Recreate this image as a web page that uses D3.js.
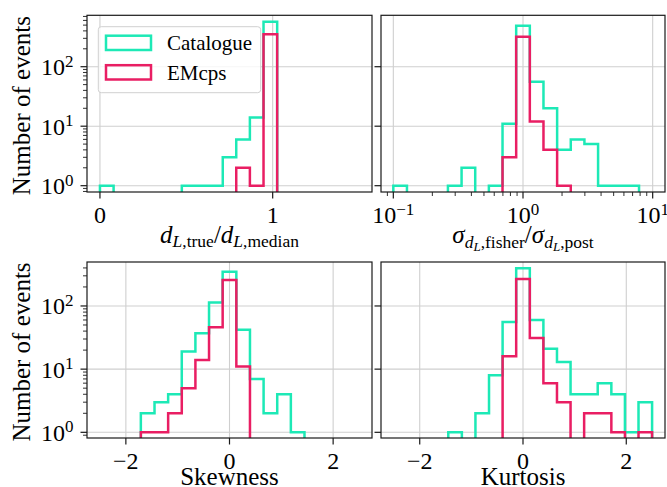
<html>
<head>
<meta charset="UTF-8">
<title>Histograms</title>
<script src="https://cdn.jsdelivr.net/npm/d3@7"></script>
<style>
  body { margin:0; background:#fff; }
</style>
</head>
<body>
<svg id="chart" width="667" height="487"></svg>
<script>
// bin edges (20 edges, 19 bins each)
var dlEdges = [0, 0.079, 0.158, 0.237, 0.316, 0.395, 0.474, 0.553, 0.632, 0.711,
               0.789, 0.868, 0.947, 1.026, 1.105, 1.184, 1.263, 1.342, 1.421, 1.5];
var sigmaEdges = [0.1, 0.1274, 0.1624, 0.2069, 0.2637, 0.336, 0.4281, 0.5456, 0.6952, 0.8859,
                  1.1288, 1.4384, 1.833, 2.336, 2.976, 3.793, 4.833, 6.158, 7.848, 10];
var momentEdges = [-2.5, -2.237, -1.974, -1.711, -1.447, -1.184, -0.921, -0.658, -0.395, -0.132,
                   0.132, 0.395, 0.658, 0.921, 1.184, 1.447, 1.711, 1.974, 2.237, 2.5];

// counts per bin
var dlCatalogue = [1,0,0,0,0,0,1,1,1,3,6,14,570,0,0,0,0,0,0];
var dlEMcps     = [0,0,0,0,0,0,0,0,0,0,2,1,350,0,0,0,0,0,0];
var sigmaCatalogue = [1,0,0,0,1,2,0,1,11,490,56,20,4,6,5,1,1,1,0];
var sigmaEMcps     = [0,0,0,0,0,0,0,0,3,320,12,4,1,0,0,0,0,0,0];
var skewCatalogue = [0,0,0,2,3,4,19,37,113,349,42,7,2,4,1,0,0,0,0];
var skewEMcps     = [0,0,0,1,1,2,5,14,46,258,11,0,0,0,0,0,0,0,0];
var kurtCatalogue = [0,0,0,0,1,0,2,8,56,395,60,21,13,4,4,6,4,1,3];
var kurtEMcps     = [0,0,0,0,0,0,0,0,16,267,31,6,3,0,2,2,1,0,1];

var seriesNames = ["Catalogue", "EMcps"];
var seriesColors = ["#1de9b6", "#e91e63"];

var linTicks = [0, 1];
var momentTicks = [-2, 0, 2];
var logXTicks = [0.1, 1, 10];
var logYTicks = [1, 10, 100];

var svg = d3.select("#chart");
var SERIF = "Liberation Serif";
var TICK_FS = 24, LABEL_FS = 25;

// exponent label like 10^k
function powLabel(sel, v) {
    var k = Math.round(Math.log10(v));
    sel.append("tspan").text("10");
    sel.append("tspan").attr("dy", -8.5).attr("font-size", 17)
        .text(k < 0 ? "\u2212" + (-k) : k);
}

function stepPath(edges, counts, x, y, bottomPx) {
    var pts = [[x(edges[0]), bottomPx]];
    for (var i = 0; i < counts.length; i++) {
        var yy = counts[i] > 0 ? y(counts[i]) : bottomPx;
        pts.push([x(edges[i]), yy]);
        pts.push([x(edges[i + 1]), yy]);
    }
    pts.push([x(edges[edges.length - 1]), bottomPx]);
    return "M" + pts.map(function(p){ return p[0] + "," + p[1]; }).join("L");
}

var clipId = 0;
function drawPanel(o) {
    var g = svg.append("g");
    var L = o.left, R = o.right, T = o.top, B = o.bottom;
    var x = o.xlog ? d3.scaleLog() : d3.scaleLinear();
    x.domain(o.xdomain).range([L, R]);
    var y = d3.scaleLog().domain(o.ydomain).range([B, T]);

    // grid
    g.selectAll("line.gx").data(o.xticks).enter().append("line")
        .attr("x1", function(d){ return x(d); }).attr("x2", function(d){ return x(d); })
        .attr("y1", T).attr("y2", B)
        .attr("stroke", "#cfcfcf").attr("stroke-width", 1.1);
    g.selectAll("line.gy").data(logYTicks).enter().append("line")
        .attr("y1", function(d){ return y(d); }).attr("y2", function(d){ return y(d); })
        .attr("x1", L).attr("x2", R)
        .attr("stroke", "#cfcfcf").attr("stroke-width", 1.1);

    // histograms
    clipId++;
    svg.append("clipPath").attr("id", "clip" + clipId).append("rect")
        .attr("x", L).attr("y", T).attr("width", R - L).attr("height", B - T);
    var hg = g.append("g").attr("clip-path", "url(#clip" + clipId + ")");
    o.series.forEach(function(s, i) {
        hg.append("path")
            .attr("d", stepPath(o.edges, s, x, y, B + 6))
            .attr("fill", "none")
            .attr("stroke", seriesColors[i])
            .attr("stroke-width", 2.5)
            .attr("stroke-linejoin", "miter");
    });

    // spines
    g.append("rect").attr("x", L).attr("y", T).attr("width", R - L).attr("height", B - T)
        .attr("fill", "none").attr("stroke", "#1a1a1a").attr("stroke-width", 1.2);

    // x ticks
    g.selectAll("line.tx").data(o.xticks).enter().append("line")
        .attr("x1", function(d){ return x(d); }).attr("x2", function(d){ return x(d); })
        .attr("y1", B).attr("y2", B + 6.5)
        .attr("stroke", "#1a1a1a").attr("stroke-width", 1.2);
    if (o.xlog) {
        var minors = [];
        [0.01, 0.1, 1, 10].forEach(function(dec) {
            for (var m = 2; m <= 9; m++) {
                var v = m * dec;
                if (v > o.xdomain[0] && v < o.xdomain[1]) minors.push(v);
            }
        });
        g.selectAll("line.mx").data(minors).enter().append("line")
            .attr("x1", function(d){ return x(d); }).attr("x2", function(d){ return x(d); })
            .attr("y1", B).attr("y2", B + 4)
            .attr("stroke", "#1a1a1a").attr("stroke-width", 0.9);
    }
    g.selectAll("text.tx").data(o.xticks).enter().append("text")
        .attr("x", function(d){ return x(d); }).attr("y", B + 31)
        .attr("text-anchor", "middle").attr("font-size", TICK_FS)
        .attr("font-family", SERIF)
        .each(function(d) {
            if (o.xlog) powLabel(d3.select(this), d);
            else d3.select(this).text(d < 0 ? "\u2212" + (-d) : d);
        });

    // y ticks
    g.selectAll("line.ty").data(logYTicks).enter().append("line")
        .attr("y1", function(d){ return y(d); }).attr("y2", function(d){ return y(d); })
        .attr("x1", L - 6.5).attr("x2", L)
        .attr("stroke", "#1a1a1a").attr("stroke-width", 1.2);
    if (o.ylabels) {
        var yminors = [];
        [0.1, 1, 10, 100].forEach(function(dec) {
            for (var m = 2; m <= 9; m++) {
                var v = m * dec;
                if (v > o.ydomain[0] && v < o.ydomain[1]) yminors.push(v);
            }
        });
        g.selectAll("line.my").data(yminors).enter().append("line")
            .attr("y1", function(d){ return y(d); }).attr("y2", function(d){ return y(d); })
            .attr("x1", L - 4).attr("x2", L)
            .attr("stroke", "#1a1a1a").attr("stroke-width", 0.9);
        g.selectAll("text.ty").data(logYTicks).enter().append("text")
            .attr("x", L - 13.5).attr("y", function(d){ return y(d) + 8.5; })
            .attr("text-anchor", "end").attr("font-size", TICK_FS)
            .attr("font-family", SERIF)
            .each(function(d){ powLabel(d3.select(this), d); });
        g.append("text")
            .attr("transform", "translate(30," + ((T + B) / 2 + 2) + ") rotate(-90)")
            .attr("text-anchor", "middle").attr("font-size", LABEL_FS)
            .attr("font-family", SERIF)
            .text("Number of events");
    }

    // x label
    var xl = g.append("text").attr("x", (L + R) / 2).attr("y", B + 51)
        .attr("text-anchor", "middle").attr("font-size", LABEL_FS)
        .attr("font-family", SERIF);
    o.xlabel(xl, B);
    return {x: x, y: y, g: g};
}

function sub(t, txt, opts) {
    var s = t.append("tspan").text(txt);
    if (opts.italic) s.attr("font-style", "italic");
    if (opts.size) s.attr("font-size", opts.size);
    if (opts.dy) s.attr("dy", opts.dy);
    return s;
}

drawPanel({
    left: 87, right: 372, top: 15.3, bottom: 192,
    xdomain: [-0.075, 1.575], ydomain: [Math.pow(10, -0.106), Math.pow(10, 2.864)],
    xticks: linTicks, edges: dlEdges, series: [dlCatalogue, dlEMcps], ylabels: true,
    xlabel: function(t) {
        sub(t, "d", {italic: true});
        sub(t, "L", {italic: true, size: 17.5, dy: 4});
        sub(t, ",true", {size: 17.5});
        sub(t, "/", {dy: -4});
        sub(t, "d", {italic: true});
        sub(t, "L", {italic: true, size: 17.5, dy: 4});
        sub(t, ",median", {size: 17.5});
    }
});

drawPanel({
    left: 381, right: 665, top: 15.3, bottom: 192, xlog: true,
    xdomain: [Math.pow(10, -1.095), Math.pow(10, 1.095)], ydomain: [Math.pow(10, -0.106), Math.pow(10, 2.864)],
    xticks: logXTicks, edges: sigmaEdges, series: [sigmaCatalogue, sigmaEMcps], ylabels: false,
    xlabel: function(t) {
        sub(t, "\u03c3", {italic: true});
        sub(t, "d", {italic: true, size: 17.5, dy: 5});
        sub(t, "L", {italic: true, size: 13, dy: 3});
        sub(t, ",fisher", {size: 17.5, dy: -3});
        sub(t, "/", {dy: -5});
        sub(t, "\u03c3", {italic: true});
        sub(t, "d", {italic: true, size: 17.5, dy: 5});
        sub(t, "L", {italic: true, size: 13, dy: 3});
        sub(t, ",post", {size: 17.5, dy: -3});
    }
});

drawPanel({
    left: 87, right: 372, top: 262, bottom: 438,
    xdomain: [-2.75, 2.75], ydomain: [Math.pow(10, -0.09), Math.pow(10, 2.696)],
    xticks: momentTicks, edges: momentEdges, series: [skewCatalogue, skewEMcps], ylabels: true,
    xlabel: function(t) { t.attr("y", 485).text("Skewness"); }
});

drawPanel({
    left: 381, right: 665, top: 262, bottom: 438,
    xdomain: [-2.75, 2.75], ydomain: [Math.pow(10, -0.09), Math.pow(10, 2.696)],
    xticks: momentTicks, edges: momentEdges, series: [kurtCatalogue, kurtEMcps], ylabels: false,
    xlabel: function(t) { t.attr("y", 485).text("Kurtosis"); }
});

// legend in first panel
var lg = svg.append("g");
lg.append("rect").attr("x", 98.3).attr("y", 26.7).attr("width", 162.4).attr("height", 66)
    .attr("rx", 3).attr("fill", "#fff").attr("fill-opacity", 0.8)
    .attr("stroke", "#d0d0d0").attr("stroke-width", 1);
seriesNames.forEach(function(name, i) {
    var yy = 35.7 + i * 29.5;
    lg.append("rect").attr("x", 106).attr("y", yy).attr("width", 45).attr("height", 14.3)
        .attr("fill", "none").attr("stroke", seriesColors[i]).attr("stroke-width", 2.5);
    lg.append("text").attr("x", 167).attr("y", yy + 14.5).attr("font-size", 21)
        .attr("font-family", SERIF).text(name);
});
</script>
</body>
</html>
